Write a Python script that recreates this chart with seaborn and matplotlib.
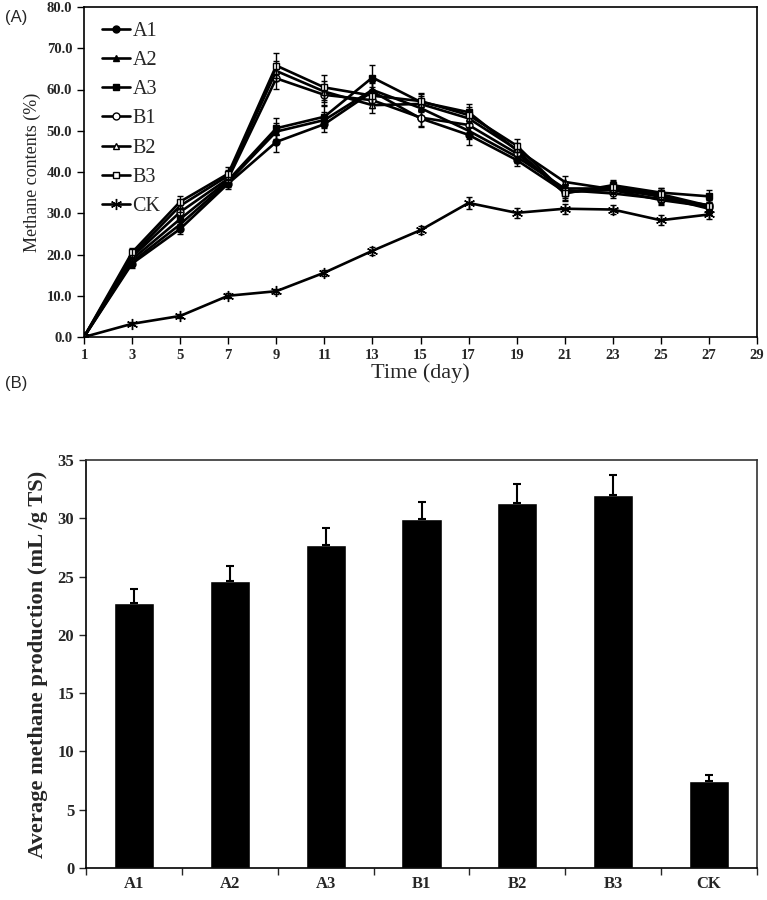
import numpy as np
import pandas as pd
import matplotlib
matplotlib.use("Agg")
import matplotlib.pyplot as plt
from matplotlib.lines import Line2D
import seaborn as sns

# Panel A: methane contents (%) over time
days = [1, 3, 5, 7, 9, 11, 13, 15, 17, 19, 21, 23, 25, 27]
a1 = [0, 17.8, 26.2, 37.2, 47.3, 51.6, 59.5, 53.0, 49.0, 42.9, 35.2, 35.6, 33.2, 31.6]
a2 = [0, 18.2, 27.3, 37.6, 49.8, 52.6, 59.9, 55.5, 50.0, 43.7, 36.0, 36.0, 34.0, 31.1]
a3 = [0, 18.8, 28.6, 38.0, 50.6, 53.4, 62.9, 57.0, 54.5, 45.3, 34.8, 36.8, 35.0, 34.1]
b1 = [0, 19.4, 30.3, 38.4, 62.7, 58.7, 57.4, 53.2, 51.4, 44.5, 35.6, 34.8, 33.5, 32.0]
b2 = [0, 19.8, 31.8, 39.1, 64.5, 59.5, 56.2, 56.5, 53.0, 45.5, 37.6, 35.8, 34.2, 31.3]
b3 = [0, 20.5, 32.8, 39.6, 65.8, 60.5, 58.5, 57.2, 53.8, 46.4, 35.0, 36.3, 34.6, 31.8]
ck = [0, 3.2, 5.1, 10.0, 11.1, 15.6, 20.9, 25.9, 32.5, 30.1, 31.1, 30.9, 28.3, 29.7]

a1_err = [0, 1.0, 1.2, 1.2, 2.5, 2.0, 2.0, 2.0, 2.5, 1.5, 1.5, 1.2, 1.2, 1.2]
a2_err = [0, 1.0, 1.2, 1.2, 2.0, 2.0, 2.0, 2.0, 2.0, 1.5, 1.5, 1.2, 1.2, 1.2]
a3_err = [0, 1.0, 1.2, 1.2, 2.5, 2.5, 3.0, 2.0, 2.0, 1.5, 1.5, 1.2, 1.2, 1.5]
b1_err = [0, 1.0, 1.2, 1.2, 2.5, 2.5, 2.0, 2.0, 2.0, 1.5, 1.5, 1.2, 1.2, 1.2]
b2_err = [0, 1.0, 1.5, 1.5, 2.5, 2.5, 2.0, 2.0, 2.0, 1.5, 1.5, 1.2, 1.5, 1.2]
b3_err = [0, 1.0, 1.5, 1.5, 3.0, 3.0, 2.0, 2.0, 2.0, 1.5, 2.0, 1.5, 1.5, 1.5]
ck_err = [0, 0.4, 0.5, 0.6, 0.6, 0.7, 1.0, 1.0, 1.5, 1.2, 1.2, 1.2, 1.2, 1.2]

# Panel B: average methane production
groups = ["A1", "A2", "A3", "B1", "B2", "B3", "CK"]
avg_prod = [22.7, 24.6, 27.7, 29.9, 31.3, 32.0, 7.5]
avg_err = [1.2, 1.3, 1.5, 1.5, 1.6, 1.7, 0.5]

sns.set_style("ticks")
serif = "Liberation Serif"

fig = plt.figure(figsize=(7.67, 9), dpi=100)
ax1 = fig.add_axes([84 / 767, 1 - 337 / 900, 673 / 767, 330 / 900])
ax2 = fig.add_axes([86 / 767, 1 - 868 / 900, 671 / 767, 408 / 900])

series = [
    ("A1", a1, a1_err, "o", "black"),
    ("A2", a2, a2_err, "^", "black"),
    ("A3", a3, a3_err, "s", "black"),
    ("B1", b1, b1_err, "o", "white"),
    ("B2", b2, b2_err, "^", "white"),
    ("B3", b3, b3_err, "s", "white"),
    ("CK", ck, ck_err, (6, 2, 0), "black"),
]

for name, vals, err, mk, fc in series:
    df = pd.DataFrame({"day": days, "val": vals})
    sns.lineplot(data=df, x="day", y="val", ax=ax1, color="black", lw=1.9,
                 marker=mk, markersize=5 if mk != (6, 2, 0) else 8,
                 markerfacecolor=fc, markeredgecolor="black", markeredgewidth=1.0)
    ax1.errorbar(days, vals, yerr=err, fmt="none", ecolor="black",
                 elinewidth=1.0, capsize=2.5, capthick=1.0)

leg_handles = [Line2D([], [], color="black", lw=1.9, marker=mk,
                      markersize=5 if mk != (6, 2, 0) else 8,
                      markerfacecolor=fc, markeredgecolor="black")
               for _, _, _, mk, fc in series]
ax1.legend(leg_handles, [s[0] for s in series], loc="upper left",
           bbox_to_anchor=(0.0, 1.01), frameon=False, handlelength=1.4,
           handletextpad=0.1, labelspacing=0.5,
           prop={"family": serif, "size": 14.5})

ax1.set_xlim(1, 29)
ax1.set_ylim(0, 80)
ax1.set_xticks(range(1, 30, 2))
ax1.set_yticks(np.arange(0, 81, 10))
ax1.set_yticklabels([f"{v:.1f}" for v in np.arange(0, 81, 10)])
ax1.set_xlabel("Time (day)", family=serif, fontsize=16, labelpad=1)
ax1.set_ylabel("Methane contents (%)", family=serif, fontsize=13, labelpad=4)
for lab in ax1.get_xticklabels() + ax1.get_yticklabels():
    lab.set_family(serif)
    lab.set_fontweight("bold")
    lab.set_fontsize(10.5)
ax1.tick_params(direction="out", length=5, width=1, color="black")
for sp in ax1.spines.values():
    sp.set_color("black")
    sp.set_linewidth(1.2)

# bar chart
bar_df = pd.DataFrame({"group": groups, "value": avg_prod})
sns.barplot(data=bar_df, x="group", y="value", ax=ax2, color="black",
            width=0.42, saturation=1)
ax2.errorbar(range(len(groups)), avg_prod, yerr=[np.zeros(len(groups)), avg_err],
             fmt="none", ecolor="black", elinewidth=1.5, capsize=3, capthick=1.5)
ax2.set_xlim(-0.5, len(groups) - 0.5)
ax2.set_ylim(0, 35)
ax2.set_yticks(range(0, 36, 5))
ax2.set_xticks(np.arange(-0.5, len(groups), 1), minor=False)
ax2.set_xticklabels([""] * (len(groups) + 1))
ax2.set_xticks(range(len(groups)), minor=True)
ax2.set_xticklabels(groups, minor=True)
ax2.tick_params(axis="x", which="minor", length=0, pad=6)
ax2.tick_params(axis="x", which="major", length=5, width=1, direction="out")
ax2.tick_params(axis="y", length=5, width=1, direction="out")
ax2.set_xlabel("")
ax2.set_ylabel("Average methane production (mL /g TS)", family=serif,
               fontsize=16.2, fontweight="bold", labelpad=7)
for lab in ax2.get_xticklabels(minor=True):
    lab.set_family(serif)
    lab.set_fontweight("bold")
    lab.set_fontsize(12)
for lab in ax2.get_yticklabels():
    lab.set_family(serif)
    lab.set_fontweight("bold")
    lab.set_fontsize(12)
for sp in ax2.spines.values():
    sp.set_color("black")
    sp.set_linewidth(1.2)
ax2.spines["top"].set_color("#333333")
ax2.spines["right"].set_color("#333333")

fig.text(5 / 767, 1 - 22 / 900, "(A)", family="Liberation Sans", fontsize=12)
fig.text(5 / 767, 1 - 388 / 900, "(B)", family="Liberation Sans", fontsize=12)

fig.savefig("out.png", dpi=100)
